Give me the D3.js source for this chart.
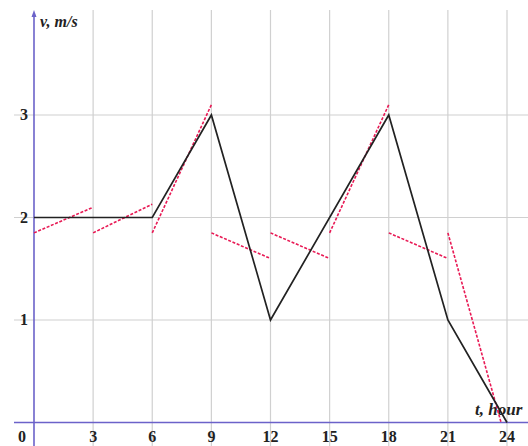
<!DOCTYPE html>
<html>
<head>
<meta charset="utf-8">
<script src="https://cdn.jsdelivr.net/npm/d3@7"></script>
<style>
  body { margin: 0; background: #fff; }
  text { font-family: "Liberation Serif", "DejaVu Serif", serif; }
</style>
</head>
<body>
<div id="chart"></div>
<script>
// velocity curve (hours, m/s)
const times = [0, 6, 9, 12, 18, 21, 24];
const speeds = [2, 2, 3, 1, 3, 1, 0];

// dashed tangent approximations: [t0, v0, t1, v1]
const tangents = [
  [0, 1.85, 3, 2.1],
  [3, 1.85, 6, 2.13],
  [6, 1.85, 9, 3.1],
  [9, 1.85, 12, 1.6],
  [12, 1.85, 15, 1.6],
  [15, 1.85, 18, 3.1],
  [18, 1.85, 21, 1.6],
  [21, 1.85, 23.7, 0]
];

const xTicks = [3, 6, 9, 12, 15, 18, 21, 24];
const yTicks = [1, 2, 3];

const width = 528, height = 446;

const x = d3.scaleLinear().domain([0, 24]).range([34, 507]);
const y = d3.scaleLinear().domain([0, 3]).range([422.5, 115]);

const svg = d3.select("#chart")
    .append("svg")
    .attr("width", width)
    .attr("height", height);

// grid
svg.append("g").selectAll("line")
    .data(xTicks)
    .join("line")
    .attr("x1", d => x(d)).attr("x2", d => x(d))
    .attr("y1", 10).attr("y2", height)
    .attr("stroke", "#d0d0d0")
    .attr("stroke-width", 1.2);

svg.append("g").selectAll("line")
    .data(yTicks)
    .join("line")
    .attr("x1", 14).attr("x2", width)
    .attr("y1", d => y(d)).attr("y2", d => y(d))
    .attr("stroke", "#d0d0d0")
    .attr("stroke-width", 1.2);

// axes
const axisColor = "#6b62c9";
svg.append("line")
    .attr("x1", 14).attr("x2", width)
    .attr("y1", y(0)).attr("y2", y(0))
    .attr("stroke", axisColor).attr("stroke-width", 1.6);
svg.append("line")
    .attr("x1", x(0)).attr("x2", x(0))
    .attr("y1", height).attr("y2", 14)
    .attr("stroke", axisColor).attr("stroke-width", 1.6);
svg.append("path")
    .attr("d", `M${x(0) - 2.5},${17} L${x(0)},${10} L${x(0) + 2.5},${17} Z`)
    .attr("fill", axisColor);

// tick labels
svg.append("g").selectAll("text")
    .data(xTicks)
    .join("text")
    .attr("x", d => x(d))
    .attr("y", 442)
    .attr("text-anchor", "middle")
    .attr("font-size", 16)
    .attr("font-weight", "bold")
    .attr("fill", "#222")
    .text(d => d);

svg.append("text")
    .attr("x", x(0) - 12)
    .attr("y", 442)
    .attr("text-anchor", "middle")
    .attr("font-size", 16)
    .attr("font-weight", "bold")
    .attr("fill", "#222")
    .text("0");

svg.append("g").selectAll("text")
    .data(yTicks)
    .join("text")
    .attr("x", x(0) - 6)
    .attr("y", d => y(d) + 5)
    .attr("text-anchor", "end")
    .attr("font-size", 16)
    .attr("font-weight", "bold")
    .attr("fill", "#222")
    .text(d => d);

// axis titles
svg.append("text")
    .attr("x", 40).attr("y", 27)
    .attr("font-size", 16)
    .attr("font-style", "italic")
    .attr("font-weight", "bold")
    .attr("fill", "#222")
    .text("v, m/s");

svg.append("text")
    .attr("x", 475).attr("y", 415)
    .attr("font-size", 17)
    .attr("font-style", "italic")
    .attr("font-weight", "bold")
    .attr("fill", "#222")
    .text("t, hour");

// tangents
svg.append("g").selectAll("line")
    .data(tangents)
    .join("line")
    .attr("x1", d => x(d[0])).attr("y1", d => y(d[1]))
    .attr("x2", d => x(d[2])).attr("y2", d => y(d[3]))
    .attr("stroke", "#e81a55")
    .attr("stroke-width", 1.6)
    .attr("stroke-dasharray", "3,1.6");

// velocity line
const line = d3.line()
    .x((d, i) => x(times[i]))
    .y(d => y(d));

svg.append("path")
    .attr("d", line(speeds))
    .attr("fill", "none")
    .attr("stroke", "#222")
    .attr("stroke-width", 1.7);
</script>
</body>
</html>
